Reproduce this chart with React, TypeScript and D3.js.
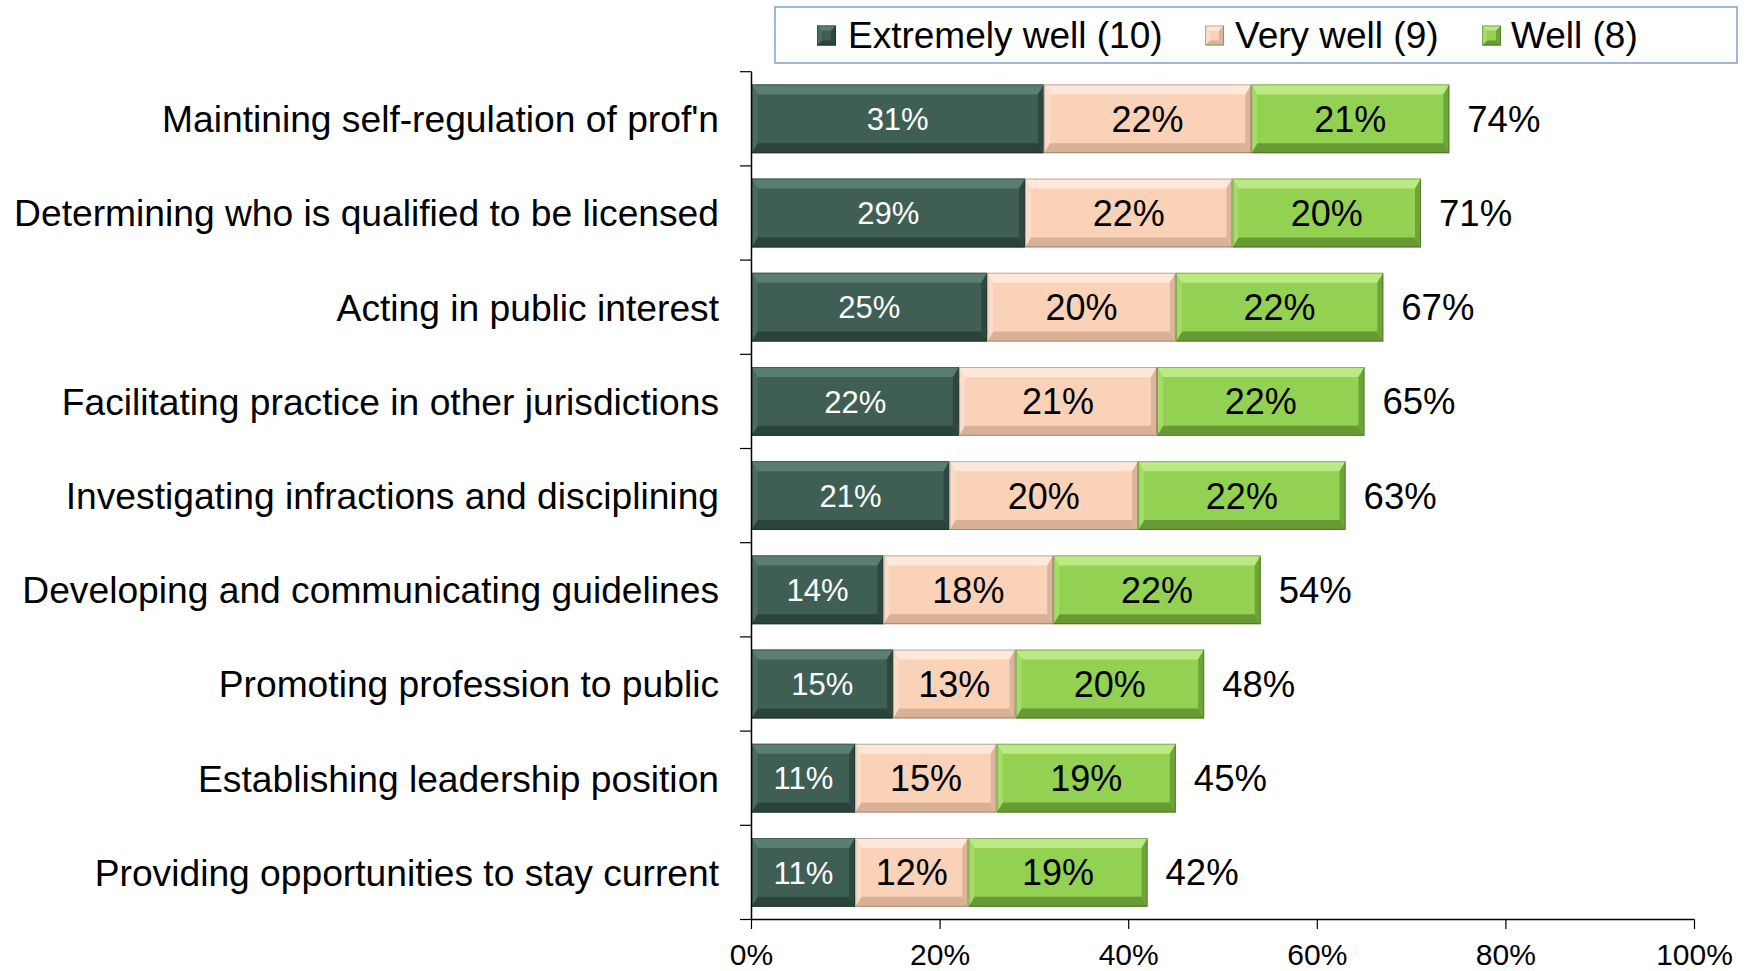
import React from "react";
import * as d3 from "d3";

const categories = [
  "Maintining self-regulation of prof'n",
  "Determining who is qualified to be licensed",
  "Acting in public interest",
  "Facilitating practice in other jurisdictions",
  "Investigating infractions and disciplining",
  "Developing and communicating guidelines",
  "Promoting profession to public",
  "Establishing leadership position",
  "Providing opportunities to stay current",
];
const extremelyWell = [31, 29, 25, 22, 21, 14, 15, 11, 11];
const veryWell = [22, 22, 20, 21, 20, 18, 13, 15, 12];
const well = [21, 20, 22, 22, 22, 22, 20, 19, 19];
const totals = [74, 71, 67, 65, 63, 54, 48, 45, 42];
const seriesNames = ["Extremely well (10)", "Very well (9)", "Well (8)"];
const xTicks = [0, 20, 40, 60, 80, 100];

const W = 1747;
const H = 971;
const FONT = "'Liberation Sans', Arial, Helvetica, sans-serif";

type Pal = { face: string; top: string; bottom: string; left: string; right: string; text: string; size: number };
const palettes: Pal[] = [
  { face: "#3f5f55", top: "#5b7e73", bottom: "#2a443c", left: "#4b6c61", right: "#2e4841", text: "#ffffff", size: 31 },
  { face: "#fad2b8", top: "#fee8da", bottom: "#d9b197", left: "#fbdcc8", right: "#dcb59c", text: "#000000", size: 36 },
  { face: "#93d152", top: "#bbea85", bottom: "#679a33", left: "#a4dc68", right: "#6ea53a", text: "#000000", size: 36 },
];

function Bevel({ x0, y0, x1, y1, bh, bv, p }: { x0: number; y0: number; x1: number; y1: number; bh: number; bv: number; p: Pal }) {
  const pts = (a: number[][]) => a.map((q) => q.join(",")).join(" ");
  return (
    <g>
      <rect x={x0} y={y0} width={x1 - x0} height={y1 - y0} fill={p.face} />
      <polygon points={pts([[x0, y0], [x1, y0], [x1 - bh, y0 + bv], [x0 + bh, y0 + bv]])} fill={p.top} />
      <polygon points={pts([[x0, y1], [x1, y1], [x1 - bh, y1 - bv], [x0 + bh, y1 - bv]])} fill={p.bottom} />
      <polygon points={pts([[x0, y0], [x0 + bh, y0 + bv], [x0 + bh, y1 - bv], [x0, y1]])} fill={p.left} />
      <polygon points={pts([[x1, y0], [x1 - bh, y0 + bv], [x1 - bh, y1 - bv], [x1, y1]])} fill={p.right} />
      <rect x={x0 + 0.5} y={y0 + 0.5} width={x1 - x0 - 1} height={y1 - y0 - 1} fill="none" stroke="rgba(0,0,0,0.25)" strokeWidth={1} />
    </g>
  );
}

export default function App() {
  const x = d3.scaleLinear().domain([0, 100]).range([751.5, 1694.5]);
  const y = d3.scaleBand<string>().domain(categories).range([71.7, 919.5]).paddingInner(0.27).paddingOuter(0.135);
  const step = y.step();
  const bw = y.bandwidth();
  const series = [extremelyWell, veryWell, well];

  const legendItems = [
    { sx: 817, tx: 848 },
    { sx: 1205, tx: 1235 },
    { sx: 1482, tx: 1511 },
  ];

  return (
    <svg width={W} height={H} style={{ position: "absolute", left: 0, top: 0, display: "block", background: "#fff" }} fontFamily={FONT}>
      {/* legend */}
      <rect x={775} y={7} width={962} height={56} fill="#fff" stroke="#9db8da" strokeWidth={2} />
      {seriesNames.map((n, i) => (
        <g key={n}>
          <Bevel x0={legendItems[i].sx} y0={25.5} x1={legendItems[i].sx + 19} y1={45.5} bh={5} bv={5} p={palettes[i]} />
          <text x={legendItems[i].tx} y={48} fontSize={37} fill="#000">
            {n}
          </text>
        </g>
      ))}

      {/* bars */}
      {categories.map((c, ci) => {
        let acc = 0;
        const y0 = y(c)!;
        const y1 = y0 + bw;
        const cy = y0 + bw / 2;
        return (
          <g key={c}>
            {series.map((s, si) => {
              const v = s[ci];
              const a = acc;
              acc += v;
              const x0 = x(a);
              const x1 = x(a + v);
              const p = palettes[si];
              return (
                <g key={si}>
                  <Bevel x0={x0} y0={y0} x1={x1} y1={y1} bh={6} bv={10} p={p} />
                  <text x={(x0 + x1) / 2} y={cy + p.size * 0.36} fontSize={p.size} fill={p.text} textAnchor="middle">
                    {v}%
                  </text>
                </g>
              );
            })}
            <text x={x(acc) + 18} y={cy + 36 * 0.36} fontSize={36.5} fill="#000">
              {totals[ci]}%
            </text>
            <text x={719} y={cy + 37.2 * 0.36} fontSize={37.2} fill="#000" textAnchor="end">
              {c}
            </text>
          </g>
        );
      })}

      {/* y axis */}
      <line x1={751.5} x2={751.5} y1={71.7} y2={920} stroke="#000" strokeWidth={1.5} />
      {d3.range(categories.length + 1).map((i) => {
        const yy = 71.7 + i * step;
        return <line key={i} x1={740} x2={751.5} y1={yy} y2={yy} stroke="#000" strokeWidth={1.2} />;
      })}

      {/* x axis */}
      <line x1={751.5} x2={1694.5} y1={919.5} y2={919.5} stroke="#000" strokeWidth={1.5} />
      {xTicks.map((t) => (
        <g key={t}>
          <line x1={x(t)} x2={x(t)} y1={919.5} y2={929} stroke="#000" strokeWidth={1.2} />
          <text x={x(t)} y={964.5} fontSize={30} textAnchor="middle" fill="#000">
            {t}%
          </text>
        </g>
      ))}
    </svg>
  );
}
